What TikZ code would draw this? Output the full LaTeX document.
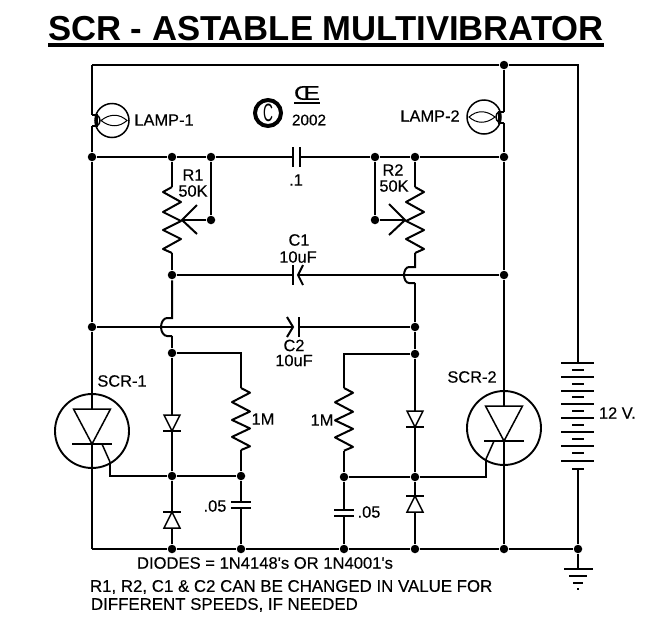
\documentclass[tikz,border=0pt]{standalone}
\usepackage{fontspec}
\setmainfont{Liberation Sans}
\newfontfamily\labfont[FakeBold=0.3]{Liberation Sans}
\usetikzlibrary{positioning,calc}
\newcommand{\lab}{\labfont\fontsize{16.4}{18}\selectfont}
\begin{document}
\begin{tikzpicture}
[x=1pt,y=-1pt,line width=2pt,
n/.style={circle,fill=black,inner sep=0pt,minimum size=8.5pt},
t/.style={inner sep=0pt,font=\lab},
thinl/.style={line width=1.5pt},
zig/.pic={
\draw[line join=round] (0,0) -- (9,5) -- (-9,15) -- (9,25) -- (-9,34) -- (9,43) -- (-9,52) -- (9,62) -- (0,66);
\coordinate (-start) at (0,0);
\coordinate (-end) at (0,66);},
lamp/.pic={
\draw (0,-5.5) -- (5,-5.5) -- (5,5.5) -- (0,5.5);
\draw[line width=1.5pt] (5,-5.5) .. controls (9,-3) and (9,3) .. (5,5.5);
\draw[line width=1.5pt] (20,0) circle[radius=17];
\draw[line width=1pt] (9,0) .. controls (18,-7) and (27,-7) .. (35,0) .. controls (27,7) and (18,7) .. (9,0);
\coordinate (-up) at (0,-5.5);
\coordinate (-down) at (0,5.5);},
scr/.pic={
\draw[line width=1.9pt] (0,0) circle[radius=37];
\draw[thinl,fill=white] (-18.5,-22) -- (18.5,-22) -- (0,13) -- cycle;
\draw[thinl] (-20,13) -- (20,13);
\draw[thinl] (10,13) -- (18,31);
\coordinate (-top) at (0,-22);
\coordinate (-bot) at (0,13);
\coordinate (-gate) at (18,31);},
diode/.pic={
\draw[thinl,fill=white] (-8,-16) -- (8,-16) -- (0,0) -- cycle;
\draw (-9,0) -- (9,0);}]
\useasboundingbox (0,0) rectangle (655,643);
\node[inner sep=0pt,font=\fontsize{34.66}{36}\selectfont\bfseries] (title) at (326,29) {SCR - ASTABLE MULTIVIBRATOR};
\coordinate (ulA) at (48,45);
\coordinate (ulB) at (604,45);
\draw[line width=3.6pt] (ulA) -- (ulB);
\coordinate (tl) at (92,65);
\coordinate (trc) at (578,65);
\coordinate (bl) at (92,549);
\node[n] (tr) at (504,65) {};
\node[n] (a) at (92,157) {};
\node[n] (b) at (172,157) {};
\node[n] (c) at (211,157) {};
\node[n] (d) at (375,157) {};
\node[n] (e) at (415,157) {};
\node[n] (f) at (504,157) {};
\node[n] (w1) at (211,220) {};
\node[n] (w2) at (375,220) {};
\node[n] (g) at (172,275) {};
\node[n] (h) at (504,275) {};
\node[n] (i) at (92,327) {};
\node[n] (j) at (415,327) {};
\node[n] (k) at (172,353) {};
\node[n] (l) at (415,354) {};
\node[n] (q1) at (172,476) {};
\node[n] (q2) at (241,476) {};
\node[n] (q3) at (344,477) {};
\node[n] (q4) at (415,477) {};
\node[n] (p1) at (172,549) {};
\node[n] (p2) at (241,549) {};
\node[n] (p3) at (344,549) {};
\node[n] (p4) at (415,549) {};
\node[n] (p5) at (504,549) {};
\node[n] (p6) at (578,549) {};
\coordinate (ca) at (293,157);
\coordinate (cb) at (300,157);
\coordinate (c1a) at (293,275);
\coordinate (c1b) at (298,275);
\coordinate (c2a) at (293,327);
\coordinate (c2b) at (299,327);
\coordinate (c3a) at (241,502);
\coordinate (c3b) at (241,508);
\coordinate (c4a) at (344,510);
\coordinate (c4b) at (344,516);
\coordinate (k1) at (241,353);
\coordinate (l1) at (344,354);
\coordinate (y1) at (182,220);
\coordinate (y2) at (405,220);
\coordinate (g1) at (110,476);
\coordinate (g2) at (486,477);
\coordinate (hop1a) at (172,318);
\coordinate (hop1b) at (172,336);
\coordinate (hop2a) at (415,267);
\coordinate (hop2b) at (415,283);
\coordinate (btop) at (578,363);
\coordinate (bbot) at (578,469);
\coordinate (gnd) at (578,569);
\draw (tl) -- (tr);
\draw (tr) -- (trc) -- (btop);
\pic (lamp1) at (92,120.5) {lamp};
\pic[xscale=-1] (lamp2) at (504,117) {lamp};
\draw (tl) -- (lamp1-up);
\draw (lamp1-down) -- (a);
\draw (tr) -- (lamp2-up);
\draw (lamp2-down) -- (f);
\draw (a) -- (i);
\draw (f) -- (h);
\pic[xscale=-1] (r1) at (172,187) {zig};
\pic (r2) at (415,187) {zig};
\pic[yscale=.94] (r3) at (241,388) {zig};
\pic[yscale=.95] (r4) at (344,388) {zig};
\draw (a) -- (b);
\draw (b) -- (c);
\draw (c) -- (ca);
\draw (cb) -- (d);
\draw (d) -- (e);
\draw (e) -- (f);
\draw (c) -- (w1);
\draw (d) -- (w2);
\draw (w1) -- (y1);
\draw (w2) -- (y2);
\draw (b) -- (r1-start);
\draw (r1-end) -- (g);
\draw (e) -- (r2-start);
\draw (r2-end) -- (hop2a) -- (409,267) .. controls (406,267) and (404,271) .. (404,275) .. controls (404,279) and (406,283) .. (409,283) -- (hop2b);
\draw (hop2b) -- (j);
\draw (g) -- (c1a);
\draw (c1b) -- (h);
\draw (i) -- (c2a);
\draw (c2b) -- (j);
\draw (g) -- (hop1a) -- (167,318) .. controls (164,318) and (161,322) .. (161,327) .. controls (161,332) and (164,336) .. (167,336) -- (hop1b);
\draw (hop1b) -- (k);
\draw (j) -- (l);
\draw (k) -- (k1) -- (r3-start);
\draw (l) -- (l1) -- (r4-start);
\draw (r3-end) -- (q2);
\draw (r4-end) -- (q3);
\draw (k) -- (q1);
\draw (l) -- (q4);
\draw (q1) -- (p1);
\draw (q4) -- (p4);
\draw (q1) -- (q2);
\draw (q3) -- (q4);
\draw (q2) -- (c3a);
\draw (c3b) -- (p2);
\draw (q3) -- (c4a);
\draw (c4b) -- (p3);
\draw (bl) -- (p1);
\draw (p1) -- (p2);
\draw (p2) -- (p3);
\draw (p3) -- (p4);
\draw (p4) -- (p5);
\draw (p5) -- (p6);
\draw (p6) -- (bbot);
\draw (p6) -- (gnd);
\pic (s1) at (92,431) {scr};
\pic[xscale=-1] (s2) at (504,428) {scr};
\draw (i) -- (s1-top);
\draw (s1-bot) -- (bl);
\draw (h) -- (s2-top);
\draw (s2-bot) -- (p5);
\draw (q1) -- (g1) -- (s1-gate);
\draw (q4) -- (g2) -- (s2-gate);
\pic (d1) at (172,431) {diode};
\pic[yscale=-1] (d2) at (172,512) {diode};
\pic (d3) at (415,427) {diode};
\pic[yscale=-1] (d4) at (415,496) {diode};
\draw ($(ca)+(0,-10)$) -- ($(ca)+(0,10)$);
\draw ($(cb)+(0,-10)$) -- ($(cb)+(0,10)$);
\draw ($(c1a)+(0,-10)$) -- ($(c1a)+(0,10)$);
\draw ($(c1b)+(5,-10)$) -- (c1b) -- ($(c1b)+(5,10)$);
\draw ($(c2a)+(-6,-10)$) -- (c2a) -- ($(c2a)+(-6,10)$);
\draw ($(c2b)+(0,-10)$) -- ($(c2b)+(0,10)$);
\draw ($(c3a)+(-10,0)$) -- ($(c3a)+(10,0)$);
\draw ($(c3b)+(-10,0)$) -- ($(c3b)+(10,0)$);
\draw ($(c4a)+(-10,0)$) -- ($(c4a)+(10,0)$);
\draw ($(c4b)+(-10,0)$) -- ($(c4b)+(10,0)$);
\draw (197,205) -- (y1) -- (197,234);
\draw (389,204) -- (y2) -- (389,235);
\foreach \y in {363,377,391,404,418,432,446,461} {\draw (561,\y) -- (594,\y);}
\foreach \y in {370,384,397,411,425,439,453,469} {\draw (572,\y) -- (584,\y);}
\draw (564,569) -- (593,569);
\draw (569,576) -- (587,576);
\draw (573,583) -- (583,583);
\draw (577,589) -- (579,589);
\node[t] (lamp1txt) at (164,120) {LAMP-1};
\node[t] (lamp2txt) at (430,116) {LAMP-2};
\node[t] (r1txt) at (193,175) {R1};
\node[t] (r1val) at (193,191) {50K};
\node[t] (r2txt) at (393,170) {R2};
\node[t] (r2val) at (394,186) {50K};
\node[t] (cval) at (296,180) {.1};
\node[t] (c1txt) at (299,240) {C1};
\node[t] (c1val) at (298,257) {10uF};
\node[t] (c2txt) at (294,345.5) {C2};
\node[t] (c2val) at (294,360.5) {10uF};
\node[t] (s1txt) at (122,381) {SCR-1};
\node[t] (s2txt) at (472,377) {SCR-2};
\node[t] (r3val) at (263,419) {1M};
\node[t] (r4val) at (322,420) {1M};
\node[t] (c3val) at (215,506) {.05};
\node[t] (c4val) at (369,512) {.05};
\node[t,anchor=west] (battval) at (598,413) {12 V.};
\node[t,font=\labfont\fontsize{16.6}{18}\selectfont] (note1) at (265,563) {DIODES = 1N4148's OR 1N4001's};
\node[t,font=\labfont\fontsize{16.85}{18}\selectfont,anchor=west] (note2) at (89,587) {R1, R2, C1 \& C2 CAN BE CHANGED IN VALUE FOR};
\node[t,font=\labfont\fontsize{16.85}{18}\selectfont,anchor=west] (note3) at (90,605) {DIFFERENT SPEEDS, IF NEEDED};
\node[draw,circle,line width=4pt,minimum size=26pt,inner sep=0pt,font=\fontsize{25}{25}\selectfont] (copy) at (268,113) {\scalebox{.55}[1]{C}};
\node[inner sep=0pt,font=\labfont\fontsize{20}{20}\selectfont] (oe) at (307,93) {\scalebox{1.3}[1]{Œ}};
\coordinate (oeA) at (294,103);
\coordinate (oeB) at (320,103);
\draw (oeA) -- (oeB);
\node[t,font=\labfont\fontsize{15.3}{16}\selectfont] (year) at (309,120) {2002};
\end{tikzpicture}
\end{document}
